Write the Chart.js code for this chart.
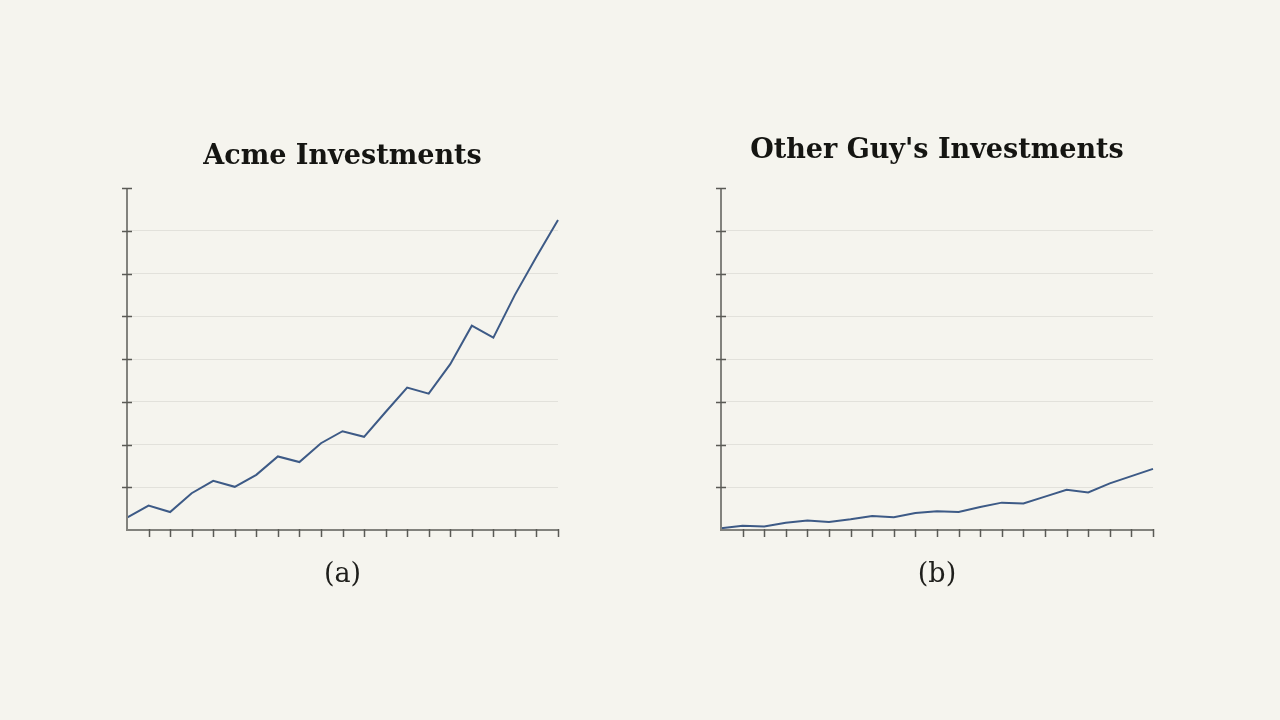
<!DOCTYPE html>
<html>
<head>
<meta charset="utf-8">
<script src="https://cdn.jsdelivr.net/npm/chart.js@4"></script>
<style>
  html, body { margin: 0; padding: 0; background: #f5f4ee; }
  .wrap { position: absolute; top: 0; width: 640px; height: 720px; }
</style>
</head>
<body>
<div class="wrap" style="left:0"><canvas id="acme" width="640" height="720"></canvas></div>
<div class="wrap" style="left:640px"><canvas id="other" width="640" height="720"></canvas></div>
<script>
// 21 periods, no labels shown on the axis
const periods = Array.from({ length: 21 }, () => "");

// values (axis runs 0..80)
const acmeValues = [2.9, 5.7, 4.2, 8.6, 11.5, 10.1, 12.9, 17.2, 15.9, 20.3, 23.1,
  21.8, 27.6, 33.3, 31.9, 38.8, 47.8, 45.0, 55.0, 63.9, 72.5];
const otherValues = [0.4, 1.0, 0.8, 1.7, 2.2, 1.9, 2.5, 3.3, 3.0, 4.0, 4.4,
  4.2, 5.4, 6.4, 6.2, 7.8, 9.4, 8.8, 10.9, 12.6, 14.3];

const yMax = 80;
const yStep = 10;

const axisColor = "#82827d";
const tickColor = "#5a5a55";
const gridColor = "#e2e1db";
const lineColor = "#3d5a86";

// axis lines and tick marks, placed through the chart's own scales
const axisMarks = {
  id: "axisMarks",
  afterDatasetsDraw(chart) {
    const { ctx, chartArea, scales } = chart;
    const x = scales.x, y = scales.y;
    ctx.save();
    ctx.strokeStyle = axisColor;
    ctx.lineWidth = 2;
    ctx.beginPath();
    ctx.moveTo(chartArea.left, y.getPixelForValue(yMax));
    ctx.lineTo(chartArea.left, chartArea.bottom);
    ctx.lineTo(chartArea.right, chartArea.bottom);
    ctx.stroke();
    ctx.strokeStyle = tickColor;
    ctx.lineWidth = 1.5;
    for (let v = yStep; v <= yMax; v += yStep) {
      const py = Math.round(y.getPixelForValue(v)) + 0.5;
      ctx.beginPath();
      ctx.moveTo(chartArea.left - 5, py);
      ctx.lineTo(chartArea.left + 5, py);
      ctx.stroke();
    }
    for (let i = 1; i < periods.length; i++) {
      const px = Math.round(x.getPixelForValue(i)) + 0.5;
      ctx.beginPath();
      ctx.moveTo(px, chartArea.bottom - 1);
      ctx.lineTo(px, chartArea.bottom + 7);
      ctx.stroke();
    }
    ctx.restore();
  }
};

function makeChart(id, title, label, values, pad, titlePad) {
  return new Chart(document.getElementById(id), {
    type: "line",
    data: {
      labels: periods,
      datasets: [{
        data: values,
        borderColor: lineColor,
        borderWidth: 2,
        pointRadius: 0,
        tension: 0,
        fill: false
      }]
    },
    options: {
      responsive: false,
      animation: false,
      layout: { padding: pad },
      plugins: {
        legend: { display: false },
        tooltip: { enabled: false },
        title: {
          display: true,
          text: title,
          color: "#151512",
          font: { family: "DejaVu Serif", size: 27, weight: "bold" },
          padding: titlePad
        },
        subtitle: {
          display: true,
          position: "bottom",
          text: label,
          color: "#1e1e1b",
          font: { family: "DejaVu Serif", size: 27, weight: "normal" },
          padding: { top: 28.8, bottom: 128.8 }
        }
      },
      scales: {
        x: {
          offset: false,
          grid: { display: false, drawTicks: false },
          border: { display: false },
          ticks: { display: false }
        },
        y: {
          min: 0,
          max: yMax,
          ticks: { display: false, stepSize: yStep },
          border: { display: false },
          grid: {
            drawTicks: false,
            lineWidth: 1,
            color: (c) => (c.tick && c.tick.value > 0 && c.tick.value < yMax) ? gridColor : "transparent"
          }
        }
      }
    },
    plugins: [axisMarks]
  });
}

makeChart("acme", "Acme Investments", "(a)", acmeValues,
  { left: 127, right: 82, top: 0, bottom: 0 }, { top: 140.8, bottom: 14.8 });
makeChart("other", "Other Guy's Investments", "(b)", otherValues,
  { left: 81, right: 127, top: 0, bottom: 0 }, { top: 134.8, bottom: 20.8 });
</script>
</body>
</html>
